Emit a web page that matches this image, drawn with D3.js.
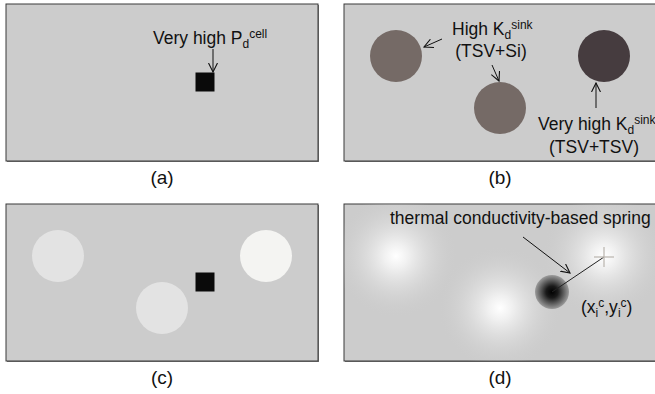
<!DOCTYPE html>
<html>
<head>
<meta charset="utf-8">
<script src="https://cdn.jsdelivr.net/npm/d3@7"></script>
<style>
  body { margin: 0; background: #fff; }
  svg { display: block; font-family: "Liberation Sans", Arial, sans-serif; }
</style>
</head>
<body>
<svg id="fig"></svg>
<script>
"use strict";

// panel ids and captions, laid out 2x2
const panelIds = ["a", "b", "c", "d"];
const panelCaptions = ["(a)", "(b)", "(c)", "(d)"];

// mark positions in panel units (0..312 wide, 0..157 high)
const cellSquare = [[199, 78]];              // hot cell (center)
const tsvCenters = [[52, 52], [156, 104], [260, 52]];
const tsvColorsB = ["#756a66", "#756a66", "#463c3f"];
const tsvColorsC = ["#e3e3e3", "#e3e3e3", "#f4f4f2"];
const cellMoved = [[208, 88]];                // cell pulled toward TSV pair in (d)
const springTarget = [[260, 53]];

const width = 655, height = 394;
const panelW = 312, panelH = 157;
const FONT = 17.5, SMALL = 12;
const svg = d3.select("#fig").attr("width", width).attr("height", height);

const origins = { a: [6, 4], b: [344, 4], c: [6, 204], d: [344, 204] };

const defs = svg.append("defs");
defs.append("marker")
  .attr("id", "open")
  .attr("viewBox", "0 0 10 10")
  .attr("refX", 9).attr("refY", 5)
  .attr("markerWidth", 10).attr("markerHeight", 10)
  .attr("markerUnits", "userSpaceOnUse")
  .attr("orient", "auto")
  .append("path")
  .attr("d", "M0,0.5 L9,5 L0,9.5")
  .attr("fill", "none").attr("stroke", "#111").attr("stroke-width", 1.1);

const glow = defs.append("radialGradient").attr("id", "glow");
glow.append("stop").attr("offset", "0%").attr("stop-color", "#ffffff");
glow.append("stop").attr("offset", "20%").attr("stop-color", "#f0f0f0");
glow.append("stop").attr("offset", "100%").attr("stop-color", "#cccccc").attr("stop-opacity", 0);

const dark = defs.append("radialGradient").attr("id", "dark");
dark.append("stop").attr("offset", "0%").attr("stop-color", "#000");
dark.append("stop").attr("offset", "35%").attr("stop-color", "#1a1a1a");
dark.append("stop").attr("offset", "75%").attr("stop-color", "#6a6a6a");
dark.append("stop").attr("offset", "100%").attr("stop-color", "#9c9c9c");

function panel(id, i) {
  const [ox, oy] = origins[id];
  const x = d3.scaleLinear().domain([0, panelW]).range([ox, ox + panelW]);
  const y = d3.scaleLinear().domain([0, panelH]).range([oy, oy + panelH]);
  const g = svg.append("g").attr("class", "panel-" + id);
  // drop-shadow lines on right/bottom
  g.append("rect").attr("x", ox + 1).attr("y", oy + 1).attr("width", panelW).attr("height", panelH)
    .attr("fill", "#777");
  g.append("rect").attr("x", ox).attr("y", oy).attr("width", panelW).attr("height", panelH)
    .attr("fill", "#cccccc").attr("stroke", "#3a3a3a").attr("stroke-width", 1);
  svg.append("text").attr("x", ox + panelW / 2).attr("y", oy + panelH + 23)
    .attr("text-anchor", "middle").attr("font-size", 19).attr("fill", "#111")
    .text(panelCaptions[i]);
  return { g, x, y };
}

function arrow(g, x1, y1, x2, y2) {
  g.append("line").attr("x1", x1).attr("y1", y1).attr("x2", x2).attr("y2", y2)
    .attr("stroke", "#111").attr("stroke-width", 1).attr("marker-end", "url(#open)");
}

function label(g, x, y, parts, anchor) {
  const t = g.append("text").attr("x", x).attr("y", y).attr("font-size", FONT)
    .attr("fill", "#111").attr("text-anchor", anchor || "start");
  parts.forEach(p => {
    const s = t.append("tspan").text(p[0]);
    if (p[1] === "sub") s.attr("font-size", SMALL).attr("dy", 4);
    if (p[1] === "sup") s.attr("font-size", SMALL).attr("dy", -10);
    if (p[1] === "base") s.attr("dy", 6);
  });
  return t;
}

// (a)
{
  const { g, x, y } = panel("a", 0);
  g.selectAll(".cell").data(cellSquare).enter().append("rect")
    .attr("x", d => x(d[0]) - 9.5).attr("y", d => y(d[1]) - 9.5)
    .attr("width", 19).attr("height", 19).attr("fill", "#0a0a0a");
  label(g, x(147), y(40), [["Very high P"], ["d", "sub"], ["cell", "sup"]]);
  arrow(g, x(207), y(45), x(207), y(68));
}

// (b)
{
  const { g, x, y } = panel("b", 1);
  g.selectAll(".tsv").data(tsvCenters).enter().append("circle")
    .attr("cx", d => x(d[0])).attr("cy", d => y(d[1])).attr("r", 26)
    .attr("fill", (d, i) => tsvColorsB[i]);
  label(g, x(108), y(31), [["High K"], ["d", "sub"], ["sink", "sup"]]);
  label(g, x(147), y(53), [["(TSV+Si)"]], "middle");
  arrow(g, x(98), y(35), x(80), y(43));
  arrow(g, x(148), y(61), x(155), y(77));
  arrow(g, x(252), y(104), x(252), y(79));
  label(g, x(194), y(126), [["Very high K"], ["d", "sub"], ["sink", "sup"]]);
  label(g, x(250), y(149), [["(TSV+TSV)"]], "middle");
}

// (c)
{
  const { g, x, y } = panel("c", 2);
  g.selectAll(".tsv").data(tsvCenters).enter().append("circle")
    .attr("cx", d => x(d[0])).attr("cy", d => y(d[1])).attr("r", 26)
    .attr("fill", (d, i) => tsvColorsC[i]);
  g.selectAll(".cell").data(cellSquare).enter().append("rect")
    .attr("x", d => x(d[0]) - 9.5).attr("y", d => y(d[1]) - 9.5)
    .attr("width", 19).attr("height", 19).attr("fill", "#0a0a0a");
}

// (d)
{
  const { g, x, y } = panel("d", 3);
  g.append("clipPath").attr("id", "clipd").append("rect")
    .attr("x", x(0)).attr("y", y(0)).attr("width", panelW).attr("height", panelH);
  const inner = g.append("g").attr("clip-path", "url(#clipd)");
  inner.selectAll(".glow").data(tsvCenters).enter().append("circle")
    .attr("cx", d => x(d[0])).attr("cy", d => y(d[1])).attr("r", 62)
    .attr("fill", "url(#glow)");
  inner.selectAll(".cell").data(cellMoved).enter().append("circle")
    .attr("cx", d => x(d[0])).attr("cy", d => y(d[1])).attr("r", 17)
    .attr("fill", "url(#dark)");
  // spring from cell to target
  const c = cellMoved[0], t = springTarget[0];
  g.append("line").attr("x1", x(c[0])).attr("y1", y(c[1])).attr("x2", x(t[0])).attr("y2", y(t[1]))
    .attr("stroke", "#222").attr("stroke-width", 1);
  // crosshair
  g.append("line").attr("x1", x(t[0]) - 10).attr("x2", x(t[0]) + 10).attr("y1", y(t[1])).attr("y2", y(t[1]))
    .attr("stroke", "#b9b4ae").attr("stroke-width", 1.2);
  g.append("line").attr("x1", x(t[0])).attr("x2", x(t[0])).attr("y1", y(t[1]) - 10).attr("y2", y(t[1]) + 10)
    .attr("stroke", "#b9b4ae").attr("stroke-width", 1.2);
  arrow(g, x(179), y(33), x(226), y(69));
  label(g, x(46), y(20), [["thermal conductivity-based spring"]]);
  label(g, x(237), y(109), [["(x"], ["i", "sub"], ["c", "sup"], [",y", "base"], ["i", "sub"], ["c", "sup"], [")", "base"]]);
}
</script>
</body>
</html>
